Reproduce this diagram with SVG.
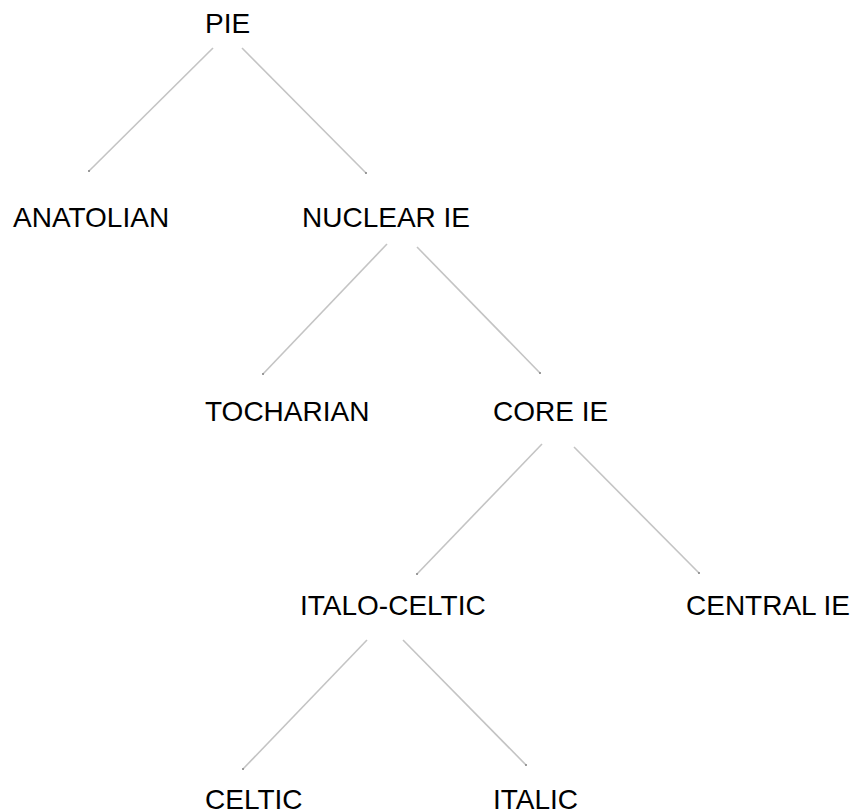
<svg xmlns="http://www.w3.org/2000/svg" width="860" height="812" viewBox="0 0 860 812">
<defs>
<style>
.lbl{font-family:"Liberation Sans",Arial,sans-serif;font-size:28px;fill:#000}
.edge{stroke:#c4c4c4;stroke-width:1.6;fill:none;stroke-linecap:butt}
</style>
<marker id="tip" viewBox="0 0 4 4" refX="2" refY="2" markerWidth="2" markerHeight="2" markerUnits="userSpaceOnUse" orient="auto">
<circle cx="2" cy="2" r="2" fill="#8a8a8a"/>
</marker>
</defs>
<rect width="860" height="812" fill="#fff"/>
<g id="connectors">
<line class="edge" x1="213" y1="48" x2="89" y2="171" marker-end="url(#tip)"/>
<line class="edge" x1="242" y1="48" x2="366" y2="173" marker-end="url(#tip)"/>
<line class="edge" x1="387" y1="244" x2="263" y2="374" marker-end="url(#tip)"/>
<line class="edge" x1="417" y1="247" x2="540" y2="373" marker-end="url(#tip)"/>
<line class="edge" x1="542" y1="444" x2="417" y2="574" marker-end="url(#tip)"/>
<line class="edge" x1="574" y1="447" x2="699" y2="573" marker-end="url(#tip)"/>
<line class="edge" x1="367" y1="640" x2="243" y2="769" marker-end="url(#tip)"/>
<line class="edge" x1="403" y1="640" x2="526" y2="765" marker-end="url(#tip)"/>
</g>
<g id="node-pie"><text class="lbl" x="205" y="33">PIE</text></g>
<g id="node-anatolian"><text class="lbl" x="13" y="227">ANATOLIAN</text></g>
<g id="node-nuclear-ie"><text class="lbl" x="302" y="227">NUCLEAR IE</text></g>
<g id="node-tocharian"><text class="lbl" x="205" y="421">TOCHARIAN</text></g>
<g id="node-core-ie"><text class="lbl" x="493" y="421">CORE IE</text></g>
<g id="node-italo-celtic"><text class="lbl" x="300" y="615">ITALO-CELTIC</text></g>
<g id="node-central-ie"><text class="lbl" x="686" y="615">CENTRAL IE</text></g>
<g id="node-celtic"><text class="lbl" x="205" y="809">CELTIC</text></g>
<g id="node-italic"><text class="lbl" x="493" y="809">ITALIC</text></g>
</svg>
